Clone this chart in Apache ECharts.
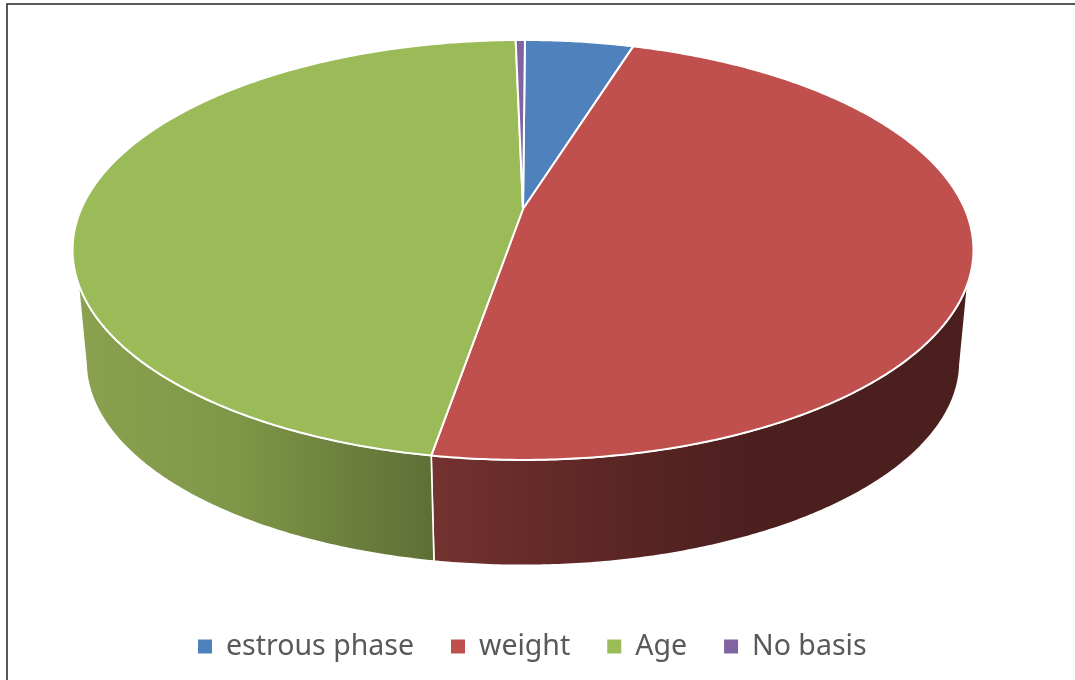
<!DOCTYPE html>
<html>
<head>
<meta charset="utf-8">
<style>html,body{margin:0;padding:0;background:#fff}#c{width:1075px;height:680px}</style>
<script src="https://cdn.jsdelivr.net/npm/echarts@6/dist/echarts.min.js"></script>
</head>
<body>
<div id="c"></div>
<script>
var sliceNames = ['estrous phase', 'weight', 'Age', 'No basis'];
var sliceValues = [4.7, 47.9, 47.0, 0.4];
var sliceColors = ['#4F81BD', '#C0504D', '#9BBB59', '#8064A2'];
var wallStops = [
  null,
  [[0, '#733230'], [0.3, '#5E2725'], [0.62, '#4A1F1E'], [1, '#4A1F1E']],
  [[0, '#8AA24F'], [0.45, '#7E9647'], [1, '#5E6F35']],
  null
];

var startAngle = 0.3, cx = 523, cy = 209, R = 441.8, ry = 202, k = -0.195;
var wallDrop = 113, wallScale = 0.97;
var rimFrom = 110, rimTo = 250, baseFrom = 102, baseTo = 258;

function project(deg, drop, s) {
  var t = deg * Math.PI / 180, u = Math.sin(t), v = -Math.cos(t), d = 1 + k * v;
  return [cx + s * R * u / d, cy + drop + s * ry * v / d];
}
function arc(a, b, drop, s) {
  var pts = [], n = Math.max(2, Math.ceil(Math.abs(b - a) * 2));
  for (var i = 0; i <= n; i++) pts.push(project(a + (b - a) * i / n, drop, s));
  return pts;
}
function sliceRange(index) {
  var total = sliceValues.reduce(function (p, c) { return p + c; }, 0), before = 0;
  for (var i = 0; i < index; i++) before += sliceValues[i];
  return [startAngle + before / total * 360, startAngle + (before + sliceValues[index]) / total * 360];
}
function renderSlice(index) {
  return function () {
    var r = sliceRange(index), children = [];
    if (wallStops[index]) {
      var top = arc(Math.max(r[0], rimFrom), Math.min(r[1], rimTo), 0, 1);
      var bottom = arc(Math.min(r[1], baseTo), Math.max(r[0], baseFrom), wallDrop, wallScale);
      var xs = top.concat(bottom).map(function (p) { return p[0]; });
      var x0 = Math.min.apply(null, xs), x1 = Math.max.apply(null, xs);
      children.push({
        type: 'polygon',
        shape: { points: top.concat(bottom) },
        style: {
          fill: new echarts.graphic.LinearGradient(x0, 0, x1, 0,
            wallStops[index].map(function (s) { return { offset: s[0], color: s[1] }; }), true),
          stroke: '#fff', lineWidth: 1.6
        }
      });
    }
    children.push({
      type: 'polygon',
      shape: { points: [[cx, cy]].concat(arc(r[0], r[1], 0, 1)) },
      style: { fill: sliceColors[index], stroke: '#fff', lineWidth: 2, lineJoin: 'round' }
    });
    return { type: 'group', children: children };
  };
}

var chart = echarts.init(document.getElementById('c'), null, { renderer: 'canvas' });
chart.setOption({
  animation: false,
  backgroundColor: '#fff',
  legend: {
    left: 193, top: 627, selectedMode: false,
    data: sliceNames, icon: 'rect',
    itemWidth: 14, itemHeight: 14, itemGap: 37,
    textStyle: { fontFamily: 'Noto Sans', fontSize: 28.5, color: '#595959', padding: [0, 0, 0, 9] }
  },
  graphic: [
    { type: 'polyline', silent: true, shape: { points: [[7, 680], [7, 4], [1075, 4]] },
      style: { stroke: '#222', lineWidth: 1.5, fill: null } }
  ],
  series: sliceNames.map(function (name, i) {
    return {
      type: 'custom', name: name, coordinateSystem: 'none',
      itemStyle: { color: sliceColors[i] },
      renderItem: renderSlice(i),
      data: [sliceValues[i]]
    };
  })
});
</script>
</body>
</html>
